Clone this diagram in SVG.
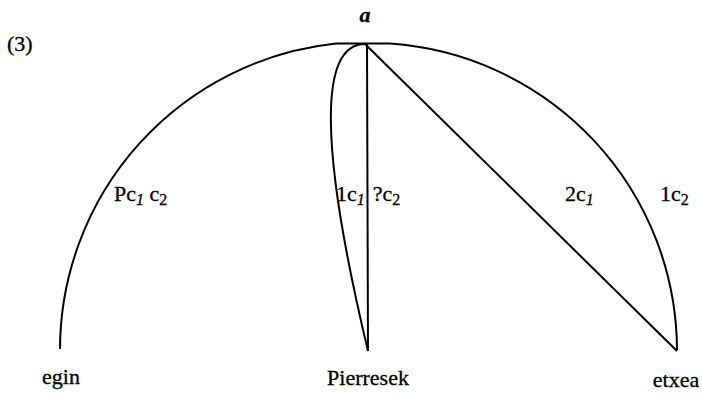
<svg xmlns="http://www.w3.org/2000/svg" width="702" height="394" viewBox="0 0 702 394">
<style>
.l{fill:none;stroke:#000;stroke-width:2}
text{font-family:"Liberation Serif","Times New Roman",serif;font-size:22px;fill:#000;stroke:#000;stroke-width:0.3}
.s{font-size:16px}
.i{font-style:italic}
</style>
<rect width="702" height="394" fill="#fff"/>
<g id="connectors">
<path class="l" d="M60,349 A308,308 0 0 1 336,43.6"/>
<path class="l" d="M336,43.6 L390,43.6"/>
<path class="l" d="M390,43.6 A308,308 0 0 1 677,350"/>
<path class="l" d="M365,44 C318,44 320,150 368,351"/>
<path class="l" d="M367,44 L368,351"/>
<path class="l" d="M365,44 L677,351"/>
</g>
<g id="label3"><text x="7" y="51" font-size="20">(3)</text></g>
<g id="a"><text x="365" y="22" text-anchor="middle" class="i" font-weight="bold" font-size="28">a</text></g>
<g id="e1"><text x="114" y="201">Pc<tspan class="s i" dy="4">1</tspan><tspan dy="-4"> c</tspan><tspan class="s" dy="4">2</tspan></text></g>
<g id="e2"><text x="336" y="201">1c<tspan class="s i" dy="4">1</tspan><tspan dy="-4" dx="8">?c</tspan><tspan class="s" dy="4">2</tspan></text></g>
<g id="e3"><text x="565" y="201">2c<tspan class="s i" dy="4">1</tspan></text></g>
<g id="e4"><text x="660" y="201">1c<tspan class="s" dy="4">2</tspan></text></g>
<g id="egin"><text x="61" y="384" text-anchor="middle">egin</text></g>
<g id="Pierresek"><text x="368" y="385" text-anchor="middle">Pierresek</text></g>
<g id="etxea"><text x="676" y="387" text-anchor="middle">etxea</text></g>
</svg>
